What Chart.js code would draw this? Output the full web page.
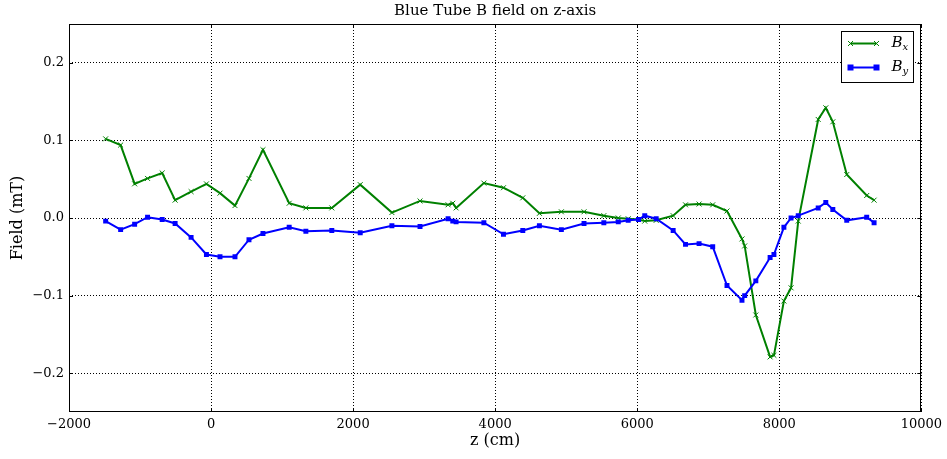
<!DOCTYPE html>
<html>
<head>
<meta charset="utf-8">
<script src="https://cdn.jsdelivr.net/npm/chart.js@4/dist/chart.umd.min.js"></script>
<style>
  html, body { margin: 0; padding: 0; background: #fff; }
  #wrap { width: 947px; height: 459px; }
</style>
</head>
<body>
<div id="wrap"><canvas id="field-chart" width="947" height="459"></canvas></div>
<script>
// z positions along the tube (cm), shared by both components
const zPos = [-1484, -1273, -1076, -894, -688, -506, -281, -65, 126, 337, 534, 731,
  1100, 1335, 1700, 2100, 2546, 2942, 3337, 3403, 3450, 3841, 4117, 4389, 4623, 4932,
  5251, 5530, 5733, 5873, 6019, 6106, 6267, 6506, 6680, 6871, 7063, 7264, 7475, 7513,
  7670, 7871, 7925, 8065, 8166, 8267, 8548, 8655, 8754, 8950, 9231, 9335];
const bx = [0.102, 0.094, 0.044, 0.051, 0.058, 0.023, 0.034, 0.044, 0.032, 0.016, 0.051, 0.088,
  0.019, 0.013, 0.013, 0.043, 0.007, 0.022, 0.017, 0.019, 0.013, 0.045, 0.039, 0.026, 0.006, 0.008,
  0.008, 0.003, 0.000, -0.001, -0.002, -0.004, -0.003, 0.003, 0.017, 0.018, 0.017, 0.009, -0.027, -0.036,
  -0.125, -0.179, -0.177, -0.107, -0.090, -0.004, 0.127, 0.142, 0.124, 0.056, 0.029, 0.023];
const by = [-0.004, -0.015, -0.008, 0.001, -0.002, -0.007, -0.025, -0.047, -0.050, -0.050, -0.028, -0.020,
  -0.012, -0.017, -0.016, -0.019, -0.010, -0.011, -0.001, -0.004, -0.005, -0.006, -0.021, -0.016, -0.010, -0.015,
  -0.007, -0.006, -0.005, -0.003, -0.002, 0.003, -0.001, -0.016, -0.034, -0.033, -0.037, -0.087, -0.106, -0.100,
  -0.081, -0.051, -0.047, -0.012, 0.000, 0.003, 0.013, 0.020, 0.011, -0.003, 0.001, -0.006];
const xTicks = [-2000, 0, 2000, 4000, 6000, 8000, 10000];
const yTicks = [-0.2, -0.1, 0.0, 0.1, 0.2];
const chartTitle = 'Blue Tube B field on z-axis';

const serif = 'DejaVu Serif';
const green = '#008000';
const blue = '#0000ff';

function minus(s) { return s.replace('-', '\u2212'); }

// title over the plot area, frame, inward ticks and the legend with subscripts
const framePlugin = {
  id: 'frame',
  afterDraw(chart) {
    const ctx = chart.ctx;
    const a = chart.chartArea;
    ctx.save();
    ctx.fillStyle = '#000';
    ctx.font = '15px "' + serif + '"';
    ctx.textAlign = 'center';
    ctx.textBaseline = 'middle';
    ctx.fillText(chartTitle, (a.left + a.right) / 2, 11);

    ctx.strokeStyle = '#000';
    ctx.lineWidth = 1;
    ctx.strokeRect(Math.round(a.left) + 0.5, Math.round(a.top) + 0.5,
      Math.round(a.right - a.left) - 1, Math.round(a.bottom - a.top) - 1);
    ctx.beginPath();
    chart.scales.x.ticks.forEach(t => {
      const px = Math.round(chart.scales.x.getPixelForValue(t.value)) + 0.5;
      ctx.moveTo(px, a.bottom); ctx.lineTo(px, a.bottom - 4);
      ctx.moveTo(px, a.top); ctx.lineTo(px, a.top + 4);
    });
    chart.scales.y.ticks.forEach(t => {
      const py = Math.round(chart.scales.y.getPixelForValue(t.value)) + 0.5;
      ctx.moveTo(a.left, py); ctx.lineTo(a.left + 4, py);
      ctx.moveTo(a.right, py); ctx.lineTo(a.right - 4, py);
    });
    ctx.stroke();

    // legend
    const w = 72, h = 51;
    const lx = Math.round(a.right - 8 - w) + 0.5, ly = Math.round(a.top + 7) + 0.5;
    ctx.fillStyle = '#fff';
    ctx.fillRect(lx, ly, w, h);
    ctx.strokeStyle = '#000';
    ctx.strokeRect(lx, ly, w, h);
    chart.data.datasets.forEach((ds, i) => {
      const y = ly + 12 + i * 24;
      const x0 = lx + 9, x1 = lx + 35;
      ctx.strokeStyle = ds.borderColor;
      ctx.lineWidth = 2;
      ctx.beginPath(); ctx.moveTo(x0, y); ctx.lineTo(x1, y); ctx.stroke();
      [x0, x1].forEach(mx => {
        if (ds.pointStyle === 'rect') {
          ctx.fillStyle = ds.pointBackgroundColor;
          ctx.fillRect(mx - 3, y - 3, 6, 6);
        } else {
          ctx.lineWidth = 1;
          ctx.beginPath();
          ctx.moveTo(mx - 2.5, y - 2.5); ctx.lineTo(mx + 2.5, y + 2.5);
          ctx.moveTo(mx - 2.5, y + 2.5); ctx.lineTo(mx + 2.5, y - 2.5);
          ctx.stroke();
        }
      });
      ctx.fillStyle = '#000';
      ctx.textBaseline = 'middle';
      ctx.textAlign = 'left';
      ctx.font = 'italic 15px "' + serif + '"';
      ctx.fillText('B', lx + 50, y);
      const bw = ctx.measureText('B').width;
      ctx.font = 'italic 10px "' + serif + '"';
      ctx.fillText(ds.sub, lx + 50 + bw, y + 4);
    });
    ctx.restore();
  }
};

const ctx = document.getElementById('field-chart').getContext('2d');
new Chart(ctx, {
  type: 'line',
  data: {
    datasets: [
      {
        label: 'Bx', sub: 'x',
        data: zPos.map((z, i) => ({ x: z, y: bx[i] })),
        borderColor: green, backgroundColor: green,
        borderWidth: 2, fill: false, tension: 0,
        pointStyle: 'crossRot', pointRadius: 3.5, pointBorderWidth: 1,
        pointBorderColor: green, pointBackgroundColor: green,
        order: 1
      },
      {
        label: 'By', sub: 'y',
        data: zPos.map((z, i) => ({ x: z, y: by[i] })),
        borderColor: blue, backgroundColor: blue,
        borderWidth: 2, fill: false, tension: 0,
        pointStyle: 'rect', pointRadius: 3.5, pointBorderWidth: 0,
        pointBorderColor: blue, pointBackgroundColor: blue,
        order: 0
      }
    ]
  },
  options: {
    responsive: false,
    animation: false,
    layout: { padding: { left: 0, right: 24, top: 24, bottom: 0 } },
    plugins: {
      legend: { display: false },
      tooltip: { enabled: false },
      title: { display: false }
    },
    scales: {
      x: {
        type: 'linear',
        min: -2000, max: 10000,
        afterBuildTicks: s => { s.ticks = xTicks.map(v => ({ value: v })); },
        afterFit: s => { s.height = 47; },
        ticks: {
          color: '#000', padding: 5, maxRotation: 0,
          font: { family: serif, size: 13 },
          callback: v => minus(String(v))
        },
        grid: { color: '#000', lineWidth: 1, drawTicks: false },
        border: { display: false, dash: [1, 2] },
        title: {
          display: true, text: 'z (cm)', color: '#000',
          font: { family: serif, size: 16 },
          padding: { top: 0, bottom: 9 }
        }
      },
      y: {
        min: -0.25, max: 0.25,
        afterBuildTicks: s => { s.ticks = yTicks.map(v => ({ value: v })); },
        afterFit: s => { s.width = 69; },
        ticks: {
          color: '#000', padding: 5,
          font: { family: serif, size: 13 },
          callback: v => Math.abs(v) < 1e-9 ? '0.0' : minus(v.toFixed(1))
        },
        grid: { color: '#000', lineWidth: 1, drawTicks: false },
        border: { display: false, dash: [1, 2] },
        title: {
          display: true, text: 'Field (mT)', color: '#000',
          font: { family: serif, size: 16 },
          padding: { top: 8, bottom: 0 }
        }
      }
    }
  },
  plugins: [framePlugin]
});
</script>
</body>
</html>
